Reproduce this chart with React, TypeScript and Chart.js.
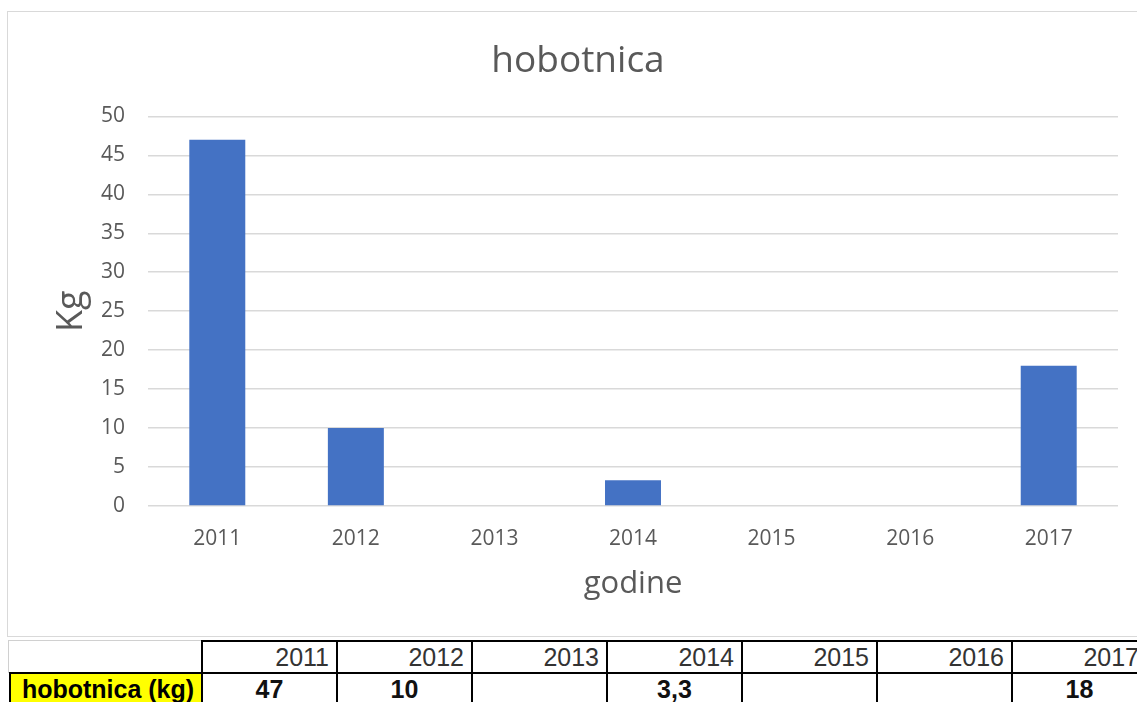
import React, { useEffect, useRef } from "react";
import { Chart, registerables } from "chart.js";

Chart.register(...registerables);

const chartTitle = "hobotnica";
const seriesLabel = "hobotnica (kg)";
const years = ["2011", "2012", "2013", "2014", "2015", "2016", "2017"];
const values: (number | null)[] = [47, 10, null, 3.3, null, null, 18];
const yTicks = [0, 5, 10, 15, 20, 25, 30, 35, 40, 45, 50];
const xAxisTitle = "godine";
const yAxisTitle = "Kg";

const fmt = (v: number | null) => (v == null ? "" : String(v).replace(".", ","));

const FONT = "'Open Sans', 'DejaVu Sans', sans-serif";
const GREY = "#595959";

export default function App() {
  const ref = useRef<HTMLCanvasElement | null>(null);

  useEffect(() => {
    if (!ref.current) return;
    const chart = new Chart(ref.current, {
      type: "bar",
      data: {
        labels: years,
        datasets: [
          {
            label: seriesLabel,
            data: values,
            backgroundColor: "#4472C4",
            barPercentage: 0.404,
            categoryPercentage: 1,
            yAxisID: "y",
          },
        ],
      },
      options: {
        responsive: false,
        animation: false,
        layout: { padding: 0 },
        plugins: {
          legend: { display: false },
          tooltip: { enabled: false },
          title: {
            display: true,
            text: chartTitle,
            color: GREY,
            font: { family: FONT, size: 37, weight: "normal" },
            padding: { top: 27, bottom: 33 },
          },
        },
        scales: {
          x: {
            grid: { display: false, drawTicks: false },
            border: { display: false },
            ticks: {
              color: GREY,
              font: { family: FONT, size: 21 },
              padding: 20,
            },
            title: {
              display: true,
              text: xAxisTitle,
              color: GREY,
              font: { family: FONT, size: 31 },
              padding: { top: 0, bottom: 33 },
            },
            afterFit: (s: any) => {
              s.height = 130;
            },
          },
          y: {
            min: yTicks[0],
            max: yTicks[yTicks.length - 1],
            afterBuildTicks: (s: any) => {
              s.ticks = yTicks.map((v) => ({ value: v }));
            },
            grid: { color: "#d9d9d9", lineWidth: 1.5, drawTicks: false },
            border: { display: false },
            ticks: {
              color: GREY,
              font: { family: FONT, size: 21 },
              padding: 23,
            },
            title: {
              display: true,
              text: yAxisTitle,
              color: GREY,
              font: { family: FONT, size: 36 },
              padding: { top: 42, bottom: 0 },
            },
            afterFit: (s: any) => {
              s.width = 140;
            },
          },
          spacer: {
            type: "linear",
            position: "right",
            display: true,
            grid: { display: false, drawTicks: false },
            border: { display: false },
            ticks: { display: false },
            afterFit: (s: any) => {
              s.width = 30;
            },
          },
        },
      },
    });
    return () => chart.destroy();
  }, []);

  const colLeft = 201;
  const colW = 135;
  const tableFont = "'Liberation Sans', Arial, sans-serif";

  return (
    <div
      style={{
        position: "fixed",
        left: 0,
        top: 0,
        width: 1137,
        height: 702,
        overflow: "hidden",
        background: "#fff",
      }}
    >
      <div
        style={{
          position: "absolute",
          left: 7,
          top: 11,
          width: 1140,
          height: 624,
          border: "1px solid #d9d9d9",
          background: "#fff",
        }}
      >
        <canvas ref={ref} width={1140} height={624} style={{ display: "block" }} />
      </div>

      {/* data table */}
      <div
        style={{
          position: "absolute",
          left: 8,
          top: 640,
          width: colLeft - 8,
          height: 33,
          boxSizing: "border-box",
          borderTop: "1px solid #d0d0d0",
          borderLeft: "1px solid #d0d0d0",
        }}
      />
      <div
        style={{
          position: "absolute",
          left: 9,
          top: 672,
          width: colLeft - 9 + 2,
          height: 40,
          boxSizing: "border-box",
          border: "2px solid #000",
          background: "#ffff00",
          fontFamily: tableFont,
          fontWeight: "bold",
          fontSize: 25,
          color: "#000",
          textAlign: "center",
          lineHeight: "31px",
          paddingLeft: 4,
          whiteSpace: "nowrap",
        }}
      >
        {seriesLabel}
      </div>
      {years.map((y, i) => (
        <React.Fragment key={y}>
          <div
            style={{
              position: "absolute",
              left: colLeft + i * colW,
              top: 640,
              width: colW + 2,
              height: 34,
              boxSizing: "border-box",
              border: "2px solid #000",
              fontFamily: tableFont,
              fontSize: 25,
              color: "#333",
              textAlign: "right",
              paddingRight: 7,
              lineHeight: "31px",
            }}
          >
            {y}
          </div>
          <div
            style={{
              position: "absolute",
              left: colLeft + i * colW,
              top: 672,
              width: colW + 2,
              height: 40,
              boxSizing: "border-box",
              border: "2px solid #000",
              fontFamily: tableFont,
              fontWeight: "bold",
              fontSize: 25,
              color: "#111",
              textAlign: "center",
              lineHeight: "31px",
            }}
          >
            {fmt(values[i])}
          </div>
        </React.Fragment>
      ))}
    </div>
  );
}
